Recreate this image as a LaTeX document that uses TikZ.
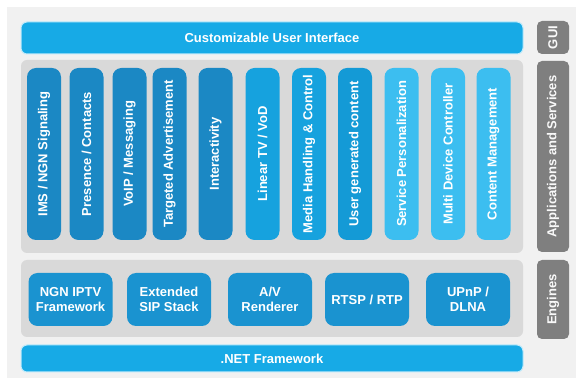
\documentclass[tikz,border=0pt]{standalone}
\usepackage{fontspec}
\setmainfont{Liberation Sans}
\definecolor{bgc}{HTML}{F1F1F1}
\definecolor{panelc}{HTML}{D9D9D9}
\definecolor{labelc}{HTML}{7F7F7F}
\definecolor{barc}{HTML}{17AAE6}
\definecolor{darkc}{HTML}{1B88C4}
\definecolor{midc}{HTML}{16A2DE}
\definecolor{midd}{HTML}{149AD6}
\definecolor{lightc}{HTML}{3CBEF0}
\definecolor{enginec}{HTML}{1A93D0}
\definecolor{glowc}{HTML}{BFEAFA}
\tikzset{
  txt/.style={font=\fontsize{13}{15}\selectfont\bfseries, text=white},
  bar/.style={txt, fill=barc, draw=glowc, line width=1pt, rounded corners=6pt, minimum width=502pt, inner sep=0pt},
  panel/.style={fill=panelc, rounded corners=6pt, minimum width=502pt, inner sep=0pt},
  layerlabel/.style={txt, text=white!95!gray, fill=labelc, rounded corners=5pt, rotate=90, minimum height=32pt, inner sep=0pt},
  col/.style={txt, rounded corners=9pt, rotate=90, minimum width=172pt, minimum height=34pt, inner sep=0pt},
  engine/.style={txt, fill=enginec, rounded corners=9pt, minimum width=84pt, minimum height=53pt, inner sep=0pt, align=center}
}
\begin{document}
\begin{tikzpicture}[x=1pt,y=-1pt]
\useasboundingbox (0,0) rectangle (576,387);
\fill[bgc] (7,7) rectangle (576,378);
% GUI layer
\node[bar, minimum height=32pt] (ui) at (272,38) {Customizable User Interface};
\node[layerlabel, minimum width=33pt] (gui) at (553,37.5) {GUI};
% Applications layer
\node[panel, minimum height=193pt] (apps) at (272,156.5) {};
\node[layerlabel, minimum width=191pt] (appslbl) at (553,156.5) {Applications and Services};
\node[col, fill=darkc] (c1) at (44,154) {IMS / NGN Signaling};
\node[col, fill=darkc] (c2) at (86.5,154) {Presence / Contacts};
\node[col, fill=darkc] (c3) at (129.5,154) {VoIP / Messaging};
\node[col, fill=darkc] (c4) at (169.5,154) {Targeted Advertisement};
\node[col, fill=darkc] (c5) at (215.5,154) {Interactivity};
\node[col, fill=midc] (c6) at (262.5,154) {Linear TV / VoD};
\node[col, fill=midc] (c7) at (309,154) {Media Handling \& Control};
\node[col, fill=midd] (c8) at (355,154) {User generated content};
\node[col, fill=lightc] (c9) at (401.5,154) {Service Personalization};
\node[col, fill=lightc] (c10) at (448,154) {Multi Device Controller};
\node[col, fill=lightc] (c11) at (493.5,154) {Content Management};
% Engines layer
\node[panel, minimum height=77pt] (eng) at (272,298.5) {};
\node[layerlabel, minimum width=79pt] (englbl) at (553,299.5) {Engines};
\node[engine] (e1) at (70.5,299.5) {NGN IPTV\\Framework};
\node[engine] (e2) at (169,299.5) {Extended\\SIP Stack};
\node[engine] (e3) at (270,299.5) {A/V\\Renderer};
\node[engine] (e4) at (367,299.5) {RTSP / RTP};
\node[engine] (e5) at (468,299.5) {UPnP /\\DLNA};
% Framework
\node[bar, minimum height=27pt] (net) at (272,358.5) {.NET Framework};
\end{tikzpicture}
\end{document}
